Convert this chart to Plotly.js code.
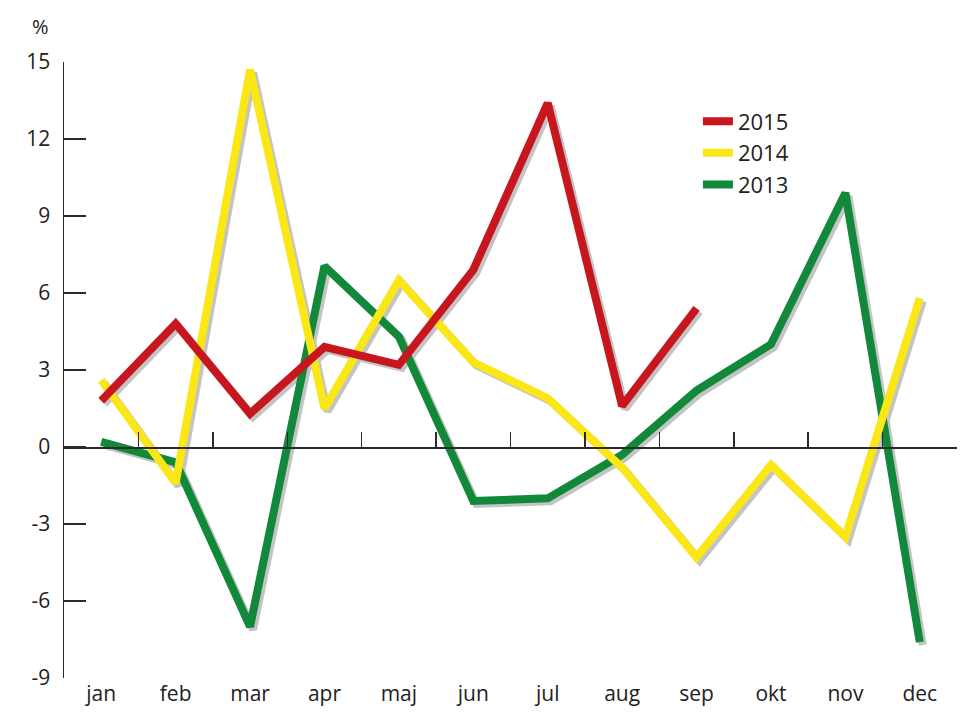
<!DOCTYPE html>
<html>
<head>
<meta charset="utf-8">
<script src="https://cdn.plot.ly/plotly-3.0.1.min.js"></script>
<style>html,body{margin:0;padding:0;background:#fff;}#chart{width:980px;height:725px;}</style>
</head>
<body>
<div id="chart"></div>
<script>
var months = ['jan','feb','mar','apr','maj','jun','jul','aug','sep','okt','nov','dec'];
var y2015 = [1.8, 4.8, 1.3, 3.9, 3.2, 6.9, 13.4, 1.6, 5.4];
var y2014 = [2.6, -1.4, 14.7, 1.5, 6.5, 3.3, 1.9, -0.8, -4.3, -0.7, -3.5, 5.8];
var y2013 = [0.2, -0.6, -7.0, 7.05, 4.3, -2.1, -2.0, -0.3, 2.2, 4.0, 9.9, -7.6];
var yTicks = [-9, -6, -3, 0, 3, 6, 9, 12, 15];

var series = [
  {name: '2013', y: y2013, color: '#12893a'},
  {name: '2014', y: y2014, color: '#fbe616'},
  {name: '2015', y: y2015, color: '#c8161e'}
];

var W = 980, H = 725;
var mL = 64, mR = 20, mT = 62, mB = 44;
var plotW = W - mL - mR, plotH = H - mT - mB;
var dx = 3 / plotW, dy = 3 / plotH;
var font = '"Open Sans", "DejaVu Sans", sans-serif';

var traces = [];
series.forEach(function (s) {
  traces.push({
    x: months.slice(0, s.y.length), y: s.y, type: 'scatter', mode: 'lines',
    xaxis: 'x', yaxis: 'y', showlegend: false, hoverinfo: 'skip',
    line: {color: '#c4c4c4', width: 8}
  });
});
series.forEach(function (s) {
  traces.push({
    x: months.slice(0, s.y.length), y: s.y, type: 'scatter', mode: 'lines',
    xaxis: 'x2', yaxis: 'y2', name: s.name,
    line: {color: s.color, width: 8}
  });
});

var yMin = -9, yMax = 15;
var zeroPos = dy + (1 - dy) * ((0 - yMin) / (yMax - yMin));

var layout = {
  width: W, height: H,
  margin: {l: mL, r: mR, t: mT, b: mB, pad: 0},
  paper_bgcolor: '#ffffff', plot_bgcolor: 'rgba(0,0,0,0)',
  font: {family: font, size: 21, color: '#222'},
  showlegend: true,
  legend: {
    x: 0.7075, y: 0.938, xanchor: 'left', yanchor: 'top',
    traceorder: 'reversed', font: {family: font, size: 22, color: '#222'},
    bgcolor: 'rgba(0,0,0,0)', tracegroupgap: 0
  },
  xaxis: {domain: [dx, 1], type: 'category', categoryarray: months, range: [-0.5, 11.5], visible: false, fixedrange: true},
  yaxis: {domain: [0, 1 - dy], range: [yMin, yMax], visible: false, fixedrange: true},
  xaxis2: {
    domain: [0, 1 - dx], type: 'category', categoryarray: months, range: [-0.5, 11.5],
    anchor: 'free', position: zeroPos,
    showline: true, linecolor: '#2a2a2a', linewidth: 1.5,
    ticks: 'inside', tickson: 'boundaries', ticklen: 15, tickwidth: 1.5, tickcolor: '#2a2a2a',
    showgrid: false, zeroline: false,
    ticklabelstandoff: 227, tickfont: {family: font, size: 21, color: '#222'}
  },
  yaxis2: {
    domain: [dy, 1], range: [yMin, yMax], anchor: 'x2',
    tickvals: yTicks, ticktext: yTicks.map(String),
    showline: true, linecolor: '#2a2a2a', linewidth: 1.5,
    ticks: 'inside', ticklen: 22, tickwidth: 1.5, tickcolor: '#2a2a2a',
    showgrid: false, zeroline: false,
    ticklabelstandoff: 8, tickfont: {family: font, size: 21, color: '#222'}
  },
  annotations: [{
    text: '%', xref: 'paper', yref: 'paper', x: (40 - mL) / plotW, y: (H - mB - 27) / plotH,
    xanchor: 'center', yanchor: 'middle', showarrow: false,
    font: {family: font, size: 20, color: '#222'}
  }]
};

Plotly.newPlot('chart', traces, layout, {displayModeBar: false, staticPlot: true});
</script>
</body>
</html>
